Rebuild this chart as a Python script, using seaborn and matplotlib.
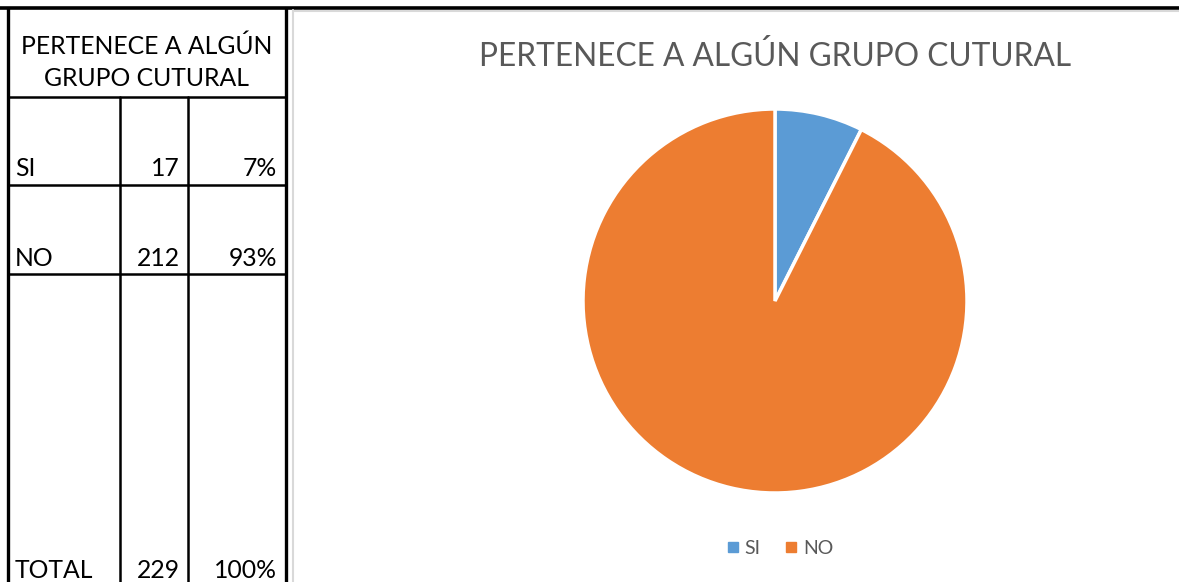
import matplotlib
matplotlib.use("Agg")
import matplotlib.pyplot as plt
from matplotlib.lines import Line2D
import seaborn as sns

# Survey data
title = "PERTENECE A ALGÚN GRUPO CUTURAL"
table_header = ["PERTENECE A ALGÚN", "GRUPO CUTURAL"]
categories = ["SI", "NO"]
counts = [17, 212]
percents = ["7%", "93%"]
total_label = "TOTAL"
total_count = 229
total_percent = "100%"

sns.set_style("white")
plt.rcParams["font.family"] = ["Lato", "DejaVu Sans"]
palette = sns.color_palette(["#5B9BD5", "#ED7D31"])

W, H = 1179, 582
fig = plt.figure(figsize=(W / 100, H / 100), dpi=100)
fig.patch.set_facecolor("white")

# Pixel-space canvas for the table and frames
canvas = fig.add_axes([0, 0, 1, 1])
canvas.set_xlim(0, W)
canvas.set_ylim(H, 0)
canvas.axis("off")

black = "black"
# top rule across the sheet
canvas.plot([0, W], [8, 8], color=black, lw=2.6, solid_capstyle="butt")
# chart frame
canvas.plot([293, 293], [10, H], color="#d9d9d9", lw=1.5)
canvas.plot([293, W], [10.5, 10.5], color="#d9d9d9", lw=1.5)
# table outer borders
canvas.plot([8, 8], [8, H], color=black, lw=2.4, solid_capstyle="butt")
canvas.plot([286, 286], [8, H], color=black, lw=2.4, solid_capstyle="butt")
# header bottom and row lines
canvas.plot([8, 286], [97, 97], color=black, lw=1.8)
canvas.plot([8, 286], [185, 185], color=black, lw=1.8)
canvas.plot([8, 286], [274, 274], color=black, lw=1.8)
# column dividers
canvas.plot([120, 120], [97, H], color=black, lw=1.8)
canvas.plot([188, 188], [97, H], color=black, lw=1.8)

tfs = 17.8
canvas.text(147, 46, table_header[0], ha="center", va="center", fontsize=tfs, color=black)
canvas.text(147, 79, table_header[1], ha="center", va="center", fontsize=tfs, color=black)

row_y = [168, 258]
for y, cat, n, p in zip(row_y, categories, counts, percents):
    canvas.text(15, y, cat, ha="left", va="center", fontsize=tfs, color=black)
    canvas.text(180, y, str(n), ha="right", va="center", fontsize=tfs, color=black)
    canvas.text(277, y, p, ha="right", va="center", fontsize=tfs, color=black)
canvas.text(15, 570, total_label, ha="left", va="center", fontsize=tfs, color=black)
canvas.text(180, 570, str(total_count), ha="right", va="center", fontsize=tfs, color=black)
canvas.text(277, 570, total_percent, ha="right", va="center", fontsize=tfs, color=black)

# chart title
canvas.text(775, 56, title, ha="center", va="center", fontsize=22.8, color="#595959")

# pie
cx, cy, r = 775, 301, 192
pie_ax = fig.add_axes([(cx - r) / W, (H - cy - r) / H, 2 * r / W, 2 * r / H])
wedges, _ = pie_ax.pie(
    counts,
    colors=palette,
    startangle=90,
    counterclock=False,
    wedgeprops=dict(edgecolor="white", linewidth=2.5),
)
pie_ax.set_xlim(-1, 1)
pie_ax.set_ylim(-1, 1)
pie_ax.set_aspect("equal")
pie_ax.axis("off")

handles = [
    Line2D([], [], marker="s", linestyle="none", markersize=7.5,
           markerfacecolor=c, markeredgecolor=c, label=lab)
    for c, lab in zip(palette, categories)
]
leg = fig.legend(handles=handles, loc="center", bbox_to_anchor=(778 / W, 1 - 548 / H),
                 ncol=2, frameon=False, fontsize=14, handletextpad=0.1,
                 columnspacing=1.1, handlelength=1.0)
for t in leg.get_texts():
    t.set_color("#595959")

fig.savefig("out.png", dpi=100, facecolor="white")
